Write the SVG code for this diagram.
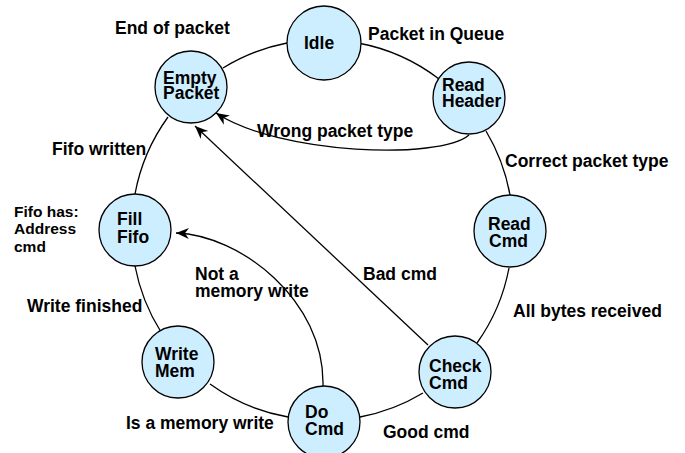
<svg xmlns="http://www.w3.org/2000/svg" width="685" height="453" viewBox="0 0 685 453">
  <defs>
    <marker id="arrow" markerUnits="userSpaceOnUse" markerWidth="14" markerHeight="12" refX="13" refY="6" orient="auto">
      <path d="M0,0.5 L13,6 L0,11.5 L4,6 z" fill="#000"/>
    </marker>
    <style>
      .node circle { fill: #cdeeff; stroke: #000; stroke-width: 1.3; }
      text { font-family: "Liberation Sans", Arial, Helvetica, sans-serif; font-weight: bold; font-size: 17.5px; fill: #000; }
      text.note { font-size: 15.5px; }
      .edge { fill: none; stroke: #000; stroke-width: 1.3; }
      .arrow { marker-end: url(#arrow); }
    </style>
  </defs>
  <rect width="685" height="453" fill="#fff"/>

  <!-- ring of transitions plus the three back-arrows -->
  <g id="connectors">
    <path class="edge" d="M358,43 A190,190 0 0 1 439,79"/>
    <path class="edge" d="M486,131 A190,190 0 0 1 510,195"/>
    <path class="edge" d="M509,268 A190,190 0 0 1 477,343"/>
    <path class="edge" d="M423,393 A190,190 0 0 1 360,417"/>
    <path class="edge" d="M288,417 A190,190 0 0 1 210,384"/>
    <path class="edge" d="M161,332 A190,190 0 0 1 135,266"/>
    <path class="edge" d="M135,194 A190,190 0 0 1 168,117"/>
    <path class="edge" d="M223,68 A190,190 0 0 1 287,43"/>
    <path class="edge arrow" d="M469,135 C440,160 280,155 216,113"/>
    <path class="edge arrow" d="M428,345 L195,126"/>
    <path class="edge arrow" d="M323,386 C325,300 240,235 176,233"/>
  </g>

  <g id="idle" class="node">
    <circle cx="324" cy="43" r="37"/>
    <text x="304" y="49">Idle</text>
  </g>
  <g id="empty-packet" class="node">
    <circle cx="191" cy="87" r="36"/>
    <text x="163" y="84">Empty<tspan x="163" y="99">Packet</tspan></text>
  </g>
  <g id="read-header" class="node">
    <circle cx="469" cy="98" r="36"/>
    <text x="442" y="91">Read<tspan x="442" y="107">Header</tspan></text>
  </g>
  <g id="read-cmd" class="node">
    <circle cx="510" cy="231" r="36"/>
    <text x="488" y="230">Read<tspan x="489" y="247">Cmd</tspan></text>
  </g>
  <g id="check-cmd" class="node">
    <circle cx="455" cy="372" r="36"/>
    <text x="429" y="372">Check<tspan x="429" y="389">Cmd</tspan></text>
  </g>
  <g id="do-cmd" class="node">
    <circle cx="324" cy="422" r="36"/>
    <text x="305" y="418">Do<tspan x="305" y="435">Cmd</tspan></text>
  </g>
  <g id="write-mem" class="node">
    <circle cx="178" cy="362" r="36"/>
    <text x="155" y="360">Write<tspan x="155" y="377">Mem</tspan></text>
  </g>
  <g id="fill-fifo" class="node">
    <circle cx="135" cy="230" r="36"/>
    <text x="117" y="225">Fill<tspan x="117" y="243">Fifo</tspan></text>
  </g>

  <!-- transition labels -->
  <g id="labels">
    <text x="115" y="34">End of packet</text>
    <text x="368" y="40">Packet in Queue</text>
    <text x="257" y="137">Wrong packet type</text>
    <text x="505" y="167">Correct packet type</text>
    <text x="52" y="155">Fifo written</text>
    <text class="note" x="14" y="217">Fifo has:<tspan x="14" y="234">Address</tspan><tspan x="14" y="252">cmd</tspan></text>
    <text x="195" y="280">Not a<tspan x="195" y="297">memory write</tspan></text>
    <text x="27" y="312">Write finished</text>
    <text x="363" y="280">Bad cmd</text>
    <text x="513" y="317">All bytes received</text>
    <text x="126" y="429">Is a memory write</text>
    <text x="383" y="438">Good cmd</text>
  </g>
</svg>
